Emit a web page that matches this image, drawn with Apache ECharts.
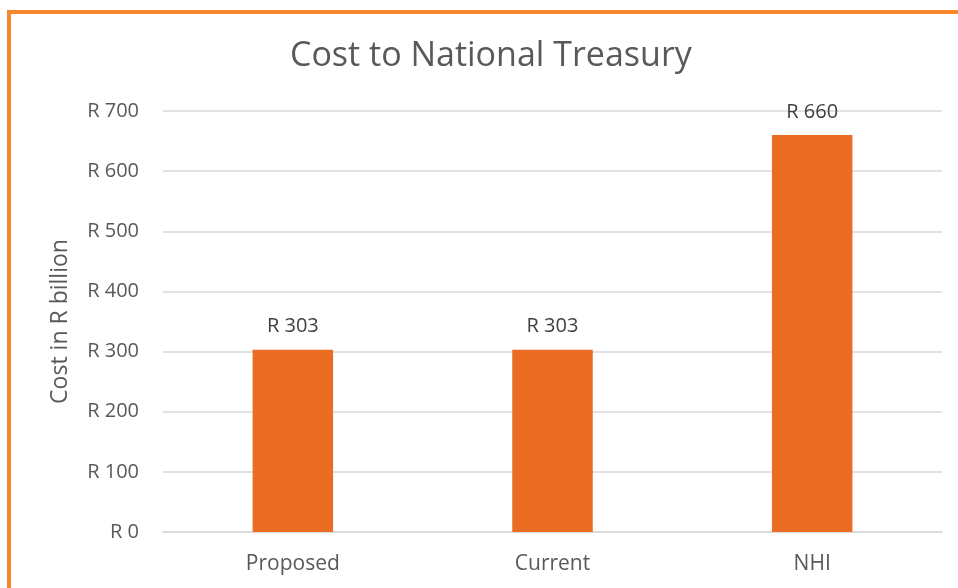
<!DOCTYPE html>
<html>
<head>
<meta charset="utf-8">
<script src="https://cdn.jsdelivr.net/npm/echarts@6/dist/echarts.min.js"></script>
<style>
  html, body { margin: 0; padding: 0; background: #fff; }
  #chart { width: 958px; height: 588px; }
  #frame {
    position: absolute; left: 7px; top: 10px; width: 980px; height: 600px;
    border-left: 4px solid #F5882A; border-top: 4px solid #F5882A;
    pointer-events: none;
  }
</style>
</head>
<body>
<div id="chart"></div>
<div id="frame"></div>
<script>
// data
var categories = ['Proposed', 'Current', 'NHI'];
var costValues = [303, 303, 660];
var yTicks = { min: 0, max: 700, interval: 100 };

var chart = echarts.init(document.getElementById('chart'));

var option = {
    animation: false,
    title: {
        text: 'Cost to National Treasury',
        left: 285,
        top: 34,
        textStyle: {
            fontFamily: 'Open Sans',
            fontWeight: 'normal',
            fontSize: 34,
            color: '#595959'
        }
    },
    grid: {
        left: 163,
        right: 16,
        top: 111,
        bottom: 56
    },
    xAxis: {
        type: 'category',
        data: categories,
        axisLine: { lineStyle: { color: '#d9d9d9', width: 1.5 } },
        axisTick: { show: false },
        axisLabel: {
            margin: 22,
            fontFamily: 'Open Sans',
            fontSize: 21,
            color: '#595959'
        }
    },
    yAxis: {
        type: 'value',
        min: yTicks.min,
        max: yTicks.max,
        interval: yTicks.interval,
        name: 'Cost in R billion',
        nameLocation: 'middle',
        nameGap: 91,
        nameTextStyle: {
            fontFamily: 'Open Sans',
            fontSize: 23,
            color: '#595959'
        },
        axisLine: { show: false },
        axisTick: { show: false },
        splitLine: { lineStyle: { color: '#d9d9d9', width: 1.5 } },
        axisLabel: {
            margin: 24,
            fontFamily: 'Open Sans',
            fontSize: 20,
            color: '#595959',
            formatter: 'R {value}'
        }
    },
    series: [{
        type: 'bar',
        data: costValues,
        barWidth: '31%',
        itemStyle: { color: '#EB6D24' },
        label: {
            show: true,
            position: 'top',
            distance: 13,
            fontFamily: 'Open Sans',
            fontSize: 20,
            color: '#404040',
            formatter: 'R {c}'
        }
    }]
};

chart.setOption(option);
</script>
</body>
</html>
